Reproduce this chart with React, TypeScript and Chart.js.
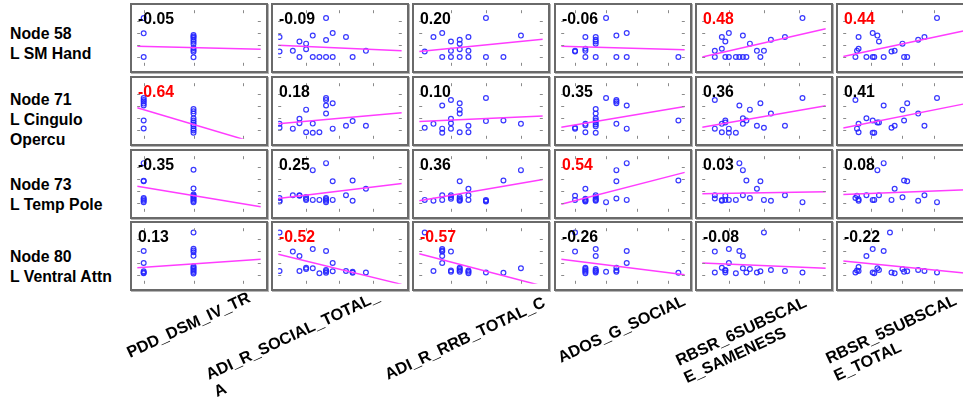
import React, { useEffect, useRef } from "react";
import { Chart, registerables } from "chart.js";

Chart.register(...registerables);

// ---------- labels ----------
const ROW_LABELS: string[][] = [
  ["Node 58", "L SM Hand"],
  ["Node 71", "L Cingulo", "Opercu"],
  ["Node 73", "L Temp Pole"],
  ["Node 80", "L Ventral Attn"],
];

const COL_LABELS: string[][] = [
  ["PDD_DSM_IV_TR"],
  ["ADI_R_SOCIAL_TOTAL_", "A"],
  ["ADI_R_RRB_TOTAL_C"],
  ["ADOS_G_SOCIAL"],
  ["RBSR_6SUBSCAL", "E_SAMENESS"],
  ["RBSR_5SUBSCAL", "E_TOTAL"],
];

// correlation coefficients (rows = nodes, cols = measures)
const CORR: number[][] = [
  [-0.05, -0.09, 0.2, -0.06, 0.48, 0.44],
  [-0.64, 0.18, 0.1, 0.35, 0.36, 0.41],
  [-0.35, 0.25, 0.36, 0.54, 0.03, 0.08],
  [0.13, -0.52, -0.57, -0.26, -0.08, -0.22],
];
const SIG_THRESHOLD = 0.44;

// axis ranges / ticks per measure (x) and per node (y)
const X_RANGE: number[][] = [
  [0.87, 3.35],
  [10.8, 29.4],
  [0.37, 14.5],
  [1.66, 13.62],
  [2.4, 37.65],
  [2.2, 81],
];
const X_TICKS: number[][] = [
  [1, 2, 3],
  [15, 20, 25],
  [4, 8, 12],
  [3, 6, 9, 12],
  [10, 20, 30],
  [20, 40, 60],
];
const Y_RANGE: number[] = [0, 100];
const Y_TICKS: number[][] = [
  [15, 37, 59, 81],
  [15, 37, 59, 81],
  [15, 37, 59, 81],
  [15, 37, 59, 81],
];

// ---------- scatter values: [measure score, node value] ----------
const NODE58_POINTS: number[][][] = [
  [[1,85.8],[1,58.4],[1,15.8],[2,55.4],[2,52.8],[2,50.3],[2,46.8],[2,43.4],[2,39.3],[2,31.8],[2,28.4],[2,25.4],[2,15.3]],
  [[11,51.8],[11,25.8],[13,26.9],[14,43.8],[14,15.8],[15,39.8],[15,29.9],[16,54.3],[16,15.8],[17,15.8],[18,85.8],[18,46.4],[18,15.8],[19,58.8],[19,15.8],[21,51.8],[22,15.8],[24,26.9]],
  [[1,25.8],[2,51.8],[3,58.8],[3,15.8],[4,43.8],[4,26.9],[4,15.8],[5,46.8],[5,39.8],[5,29.9],[5,15.8],[6,51.8],[6,26.9],[6,15.8],[8,85.8],[8,15.8],[10,15.8],[12,54.3]],
  [[3,25.8],[3,26.9],[4,51.8],[4,30.8],[4,26.9],[4,15.8],[5,51.8],[5,46.8],[5,43.8],[5,39.8],[5,15.8],[6,85.8],[7,54.3],[7,15.8],[8,58.8],[8,15.8],[13,15.8]],
  [[6,26.9],[6,15.8],[8,51.8],[8,30.8],[9,43.8],[9,15.8],[10,58.8],[10,15.8],[12,15.8],[13,15.8],[14,15.8],[15,15.8],[14,54.3],[16,39.8],[18,26.9],[19,15.8],[20,26.9],[22,46.8],[26,51.8],[31,85.8]],
  [[10,15.8],[11,26.9],[12,30.8],[12,51.8],[17,15.8],[21,58.8],[21,15.8],[22,15.8],[24,54.3],[25,43.8],[28,15.8],[33,25.8],[35,26.9],[40,39.8],[41,15.8],[43,15.8],[50,46.8],[54,51.8],[62,85.8]],
];
const NODE71_POINTS: number[][][] = [
  [[1,73.4],[1,69.9],[1,66.9],[1,63.3],[1,59.9],[1,32.9],[1,18.6],[2,53.4],[2,49.4],[2,45.3],[2,36.9],[2,32.9],[2,29.4],[2,25.8],[2,22.4],[2,18.3],[2,14.9],[2,10.8]],
  [[11,26.9],[11,19.8],[13,18.3],[14,35.9],[14,27.9],[15,52.4],[15,11.9],[16,27.3],[16,10.8],[17,11.9],[18,73.4],[18,69.9],[18,59.9],[18,45.3],[19,63.9],[19,18.3],[21,23.4],[22,31.8],[24,23.4]],
  [[1,19.8],[2,26.9],[3,59.9],[3,18.3],[3,10.8],[4,69.9],[4,35.9],[4,27.9],[4,18.3],[5,63.9],[5,52.4],[5,45.3],[5,11.9],[6,23.4],[6,11.9],[8,73.4],[8,31.8],[10,32.9],[12,26.9]],
  [[3,19.8],[3,18.3],[4,26.9],[4,24.4],[4,11.9],[5,53.4],[5,45.3],[5,36.9],[5,32.9],[5,29.4],[5,25.8],[5,22.4],[5,10.8],[6,73.4],[7,69.9],[7,66.9],[7,63.9],[7,26.9],[8,59.9],[8,18.3],[13,32.9]],
  [[6,69.9],[6,18.3],[8,26.9],[8,11.9],[9,32.9],[9,29.4],[10,18.3],[10,10.8],[12,10.8],[13,59.9],[14,36.9],[14,26.9],[15,32.9],[16,52.4],[18,23.4],[19,63.9],[20,19.8],[22,45.3],[26,23.4],[31,73.4]],
  [[10,69.9],[11,18.3],[12,26.9],[12,11.9],[17,36.9],[21,32.9],[21,10.8],[22,10.8],[24,29.4],[25,29.4],[28,59.9],[33,19.8],[35,23.4],[40,52.4],[41,32.9],[43,63.9],[50,45.3],[54,23.4],[62,73.4]],
];
const NODE73_POINTS: number[][][] = [
  [[1,87.5],[1,56],[1,54.9],[1,24.9],[1,22.4],[1,20],[1,17.4],[2,75.5],[2,41.9],[2,30.9],[2,29],[2,26.9],[2,24.5],[2,21.9],[2,19.4],[2,17]],
  [[11,24.9],[11,20],[11,18.4],[13,29.9],[14,29.9],[14,29],[15,26.4],[15,23.4],[15,21.4],[16,74.9],[16,21.4],[17,21.4],[18,87.5],[18,24.9],[18,22.4],[18,20],[18,17.4],[19,54.9],[19,21.4],[21,29.9],[22,56.4],[22,20],[24,41.4]],
  [[1,21.4],[2,20],[3,29.9],[3,21.4],[4,29.9],[4,26.4],[4,23.4],[5,54.9],[5,26.4],[5,23.4],[5,21.4],[5,20],[6,41.4],[6,29.9],[6,21.4],[8,21.4],[8,20],[8,18.4],[10,56.4],[12,74.9]],
  [[3,29],[3,21.4],[4,41.4],[4,23.4],[4,21.4],[4,20],[4,18.4],[5,29.9],[5,26.4],[5,23.4],[5,21.4],[5,20],[6,17.4],[7,74.9],[7,54.9],[7,23.9],[8,87.5],[8,21.4],[13,56.4]],
  [[6,29.9],[6,23.9],[8,21.4],[8,20],[9,29],[9,21.4],[10,21.4],[12,21.4],[13,87.5],[14,74.9],[14,29.9],[15,56.4],[16,24.9],[18,41.4],[19,54.9],[20,21.4],[22,20],[26,29.9],[31,17.4]],
  [[10,24.9],[11,29],[12,22.4],[12,20],[17,29.9],[21,21.4],[22,21.4],[24,74.9],[25,29.9],[28,87.5],[33,21.4],[35,41.4],[40,26],[41,56.4],[43,54.9],[50,20],[54,29.9],[62,17.4]],
];
const NODE80_POINTS: number[][][] = [
  [[1,59],[1,37.5],[1,22.5],[1,20.4],[1,18.9],[2,92.4],[2,63],[2,60],[2,56.7],[2,50.3],[2,31.5],[2,29],[2,26.4],[2,24],[2,21.2],[2,18.5]],
  [[11,92.4],[11,23],[13,57.9],[14,50],[14,23],[15,29],[15,26.4],[16,62.4],[16,27.9],[17,18.9],[18,59],[18,24.9],[18,22.5],[18,20],[19,37.5],[19,22.5],[21,23],[22,21.5],[22,20],[24,20.4]],
  [[1,92.4],[2,23],[3,62.4],[3,60],[3,57.9],[3,50],[3,37.5],[4,57.9],[4,24],[4,21.5],[5,29],[5,26.4],[5,24],[5,21.5],[6,24],[6,21.5],[6,18.9],[8,20.4],[10,20],[12,27.9]],
  [[3,92.4],[3,57.9],[4,29],[4,26.4],[4,24],[4,21.5],[4,18.9],[5,62.4],[5,50],[5,26.4],[5,24],[5,22.5],[5,20.4],[6,21.5],[7,29],[7,24],[7,21.5],[8,59],[8,37.5],[13,20]],
  [[6,57.9],[6,20.4],[8,29],[9,24],[9,24.9],[9,20.4],[10,62.4],[10,37.5],[12,18.9],[13,59],[14,50],[14,27.9],[15,20.4],[16,26.4],[18,20.4],[19,22.5],[20,92.4],[22,24.9],[26,23],[31,20.4]],
  [[10,20.4],[11,24],[12,30],[12,23],[17,50],[21,62.4],[21,20.4],[22,18.9],[24,27.9],[25,24.9],[28,59],[32,92.4],[33,20.4],[35,18.9],[40,26.4],[41,21.5],[43,22.5],[50,24.9],[54,23],[62,20.4]],
];
const ALL_POINTS = [NODE58_POINTS, NODE71_POINTS, NODE73_POINTS, NODE80_POINTS];

// fitted line: node value at the left and right end of each measure's range
const FIT_LINES: number[][][] = [
  [[35.3, 29.9], [36.8, 26.9], [25.8, 47.9], [35.3, 28.8], [15.8, 66.8], [16.8, 63.8]],
  [[55.8, -10.2], [26.9, 46.8], [30.9, 40.8], [20.9, 57.9], [20.9, 59.4], [19.5, 63.7]],
  [[45.9, 8.9], [23.9, 50.9], [20, 58], [13.4, 70.9], [32.4, 35.9], [30.9, 39.6]],
  [[29, 44], [53, -1], [54, -4], [44, 16.4], [37.5, 27.9], [41, 19]],
];

// ---------- layout ----------
const COL_LEFT = [130, 271, 412, 554, 695, 836];
const ROW_TOP = [3, 76, 149, 221];
const PANEL_W = 138;
const PANEL_H = 70;
const BORDER = 2;
const FONT = "'Liberation Sans', Arial, Helvetica, sans-serif";
const ROW_LABEL_TOP = [23.8, 90.1, 174.8, 246.8];
const COL_LABEL_START: number[][] = [
  [130, 358],
  [209, 380],
  [388, 380],
  [561, 363],
  [679, 366],
  [829, 364],
];

function makeTickPlugin(xTicks: number[], yTicks: number[]) {
  return {
    id: "innerTicks",
    afterDatasetsDraw(chart: any) {
      const { ctx, chartArea, scales } = chart;
      const { left, right, top, bottom } = chartArea;
      const len = 3;
      ctx.save();
      ctx.strokeStyle = "#8a8a8a";
      ctx.lineWidth = 1;
      ctx.beginPath();
      for (const v of xTicks) {
        const px = Math.round(scales.x.getPixelForValue(v)) + 0.5;
        ctx.moveTo(px, top);
        ctx.lineTo(px, top + len);
        ctx.moveTo(px, bottom);
        ctx.lineTo(px, bottom - len);
      }
      for (const v of yTicks) {
        const py = Math.round(scales.y.getPixelForValue(v)) + 0.5;
        ctx.moveTo(left, py);
        ctx.lineTo(left + len, py);
        ctx.moveTo(right, py);
        ctx.lineTo(right - len, py);
      }
      ctx.stroke();
      ctx.restore();
    },
  };
}

function Panel({ r, c }: { r: number; c: number }) {
  const ref = useRef<HTMLCanvasElement | null>(null);
  useEffect(() => {
    if (!ref.current) return;
    const [xmin, xmax] = X_RANGE[c];
    const [y0, y1] = FIT_LINES[r][c];
    const pts = ALL_POINTS[r][c].map(([x, y]) => ({ x, y }));
    const chart = new Chart(ref.current, {
      type: "scatter",
      data: {
        datasets: [
          {
            type: "scatter",
            data: pts,
            pointStyle: "circle",
            pointRadius: 2.4,
            borderWidth: 1.2,
            borderColor: "rgba(35,35,255,0.9)",
            backgroundColor: "rgba(0,0,0,0)",
            order: 2,
          } as any,
          {
            type: "line",
            data: [
              { x: xmin, y: y0 },
              { x: xmax, y: y1 },
            ],
            borderColor: "#ff3cff",
            borderWidth: 1.5,
            pointRadius: 0,
            fill: false,
            tension: 0,
            order: 1,
          } as any,
        ],
      },
      options: {
        animation: false,
        responsive: false,
        events: [],
        layout: { padding: 0 },
        plugins: { legend: { display: false }, tooltip: { enabled: false } },
        scales: {
          x: { type: "linear", min: xmin, max: xmax, display: false },
          y: { type: "linear", min: Y_RANGE[0], max: Y_RANGE[1], display: false },
        },
      },
      plugins: [makeTickPlugin(X_TICKS[c], Y_TICKS[r])],
    });
    return () => chart.destroy();
  }, [r, c]);

  const corr = CORR[r][c];
  const sig = Math.abs(corr) >= SIG_THRESHOLD;
  return (
    <div
      style={{
        position: "absolute",
        left: COL_LEFT[c],
        top: ROW_TOP[r],
        width: PANEL_W,
        height: PANEL_H,
        boxSizing: "border-box",
        border: `${BORDER}px solid #6a6a6a`,
        boxShadow: "1px 1px 0 #b4b4b4",
        background: "#fff",
      }}
    >
      <canvas
        ref={ref}
        width={PANEL_W - 2 * BORDER}
        height={PANEL_H - 2 * BORDER}
        style={{ display: "block", width: PANEL_W - 2 * BORDER, height: PANEL_H - 2 * BORDER }}
      />
      <div
        style={{
          position: "absolute",
          left: 6,
          top: 5.7,
          font: `bold 15.8px/16px ${FONT}`,
          color: sig ? "#ff0000" : "#000",
          whiteSpace: "nowrap",
          pointerEvents: "none",
        }}
      >
        {corr.toFixed(2)}
      </div>
    </div>
  );
}

export default function App() {
  const lineH = 19;
  const fs = 16.2;
  const baseline = (lineH - 1.117 * fs) / 2 + 0.905 * fs;
  return (
    <div
      style={{
        position: "fixed",
        left: 0,
        top: 0,
        width: 963,
        height: 397,
        overflow: "hidden",
        background: "#fff",
        fontFamily: FONT,
      }}
    >
      {ROW_LABELS.map((lines, r) => (
        <div
          key={"rl" + r}
          style={{
            position: "absolute",
            left: 10,
            top: ROW_LABEL_TOP[r],
            font: `bold 15.8px/20px ${FONT}`,
            color: "#000",
            whiteSpace: "nowrap",
          }}
        >
          {lines.map((l, i) => (
            <div key={i}>{l}</div>
          ))}
        </div>
      ))}
      {ROW_LABELS.map((_, r) =>
        COL_LABELS.map((__, c) => <Panel key={`p${r}-${c}`} r={r} c={c} />)
      )}
      {COL_LABELS.map((lines, c) => (
        <div
          key={"cl" + c}
          style={{
            position: "absolute",
            left: COL_LABEL_START[c][0],
            top: COL_LABEL_START[c][1] - baseline,
            transformOrigin: `0px ${baseline}px`,
            transform: "rotate(-25deg)",
            font: `bold ${fs}px/${lineH}px ${FONT}`,
            color: "#000",
            whiteSpace: "nowrap",
          }}
        >
          {lines.map((l, i) => (
            <div key={i}>{l}</div>
          ))}
        </div>
      ))}
    </div>
  );
}
